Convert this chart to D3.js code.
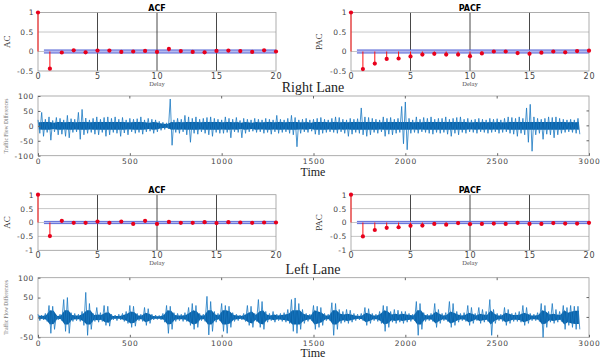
<!DOCTYPE html>
<html>
<head>
<meta charset="utf-8">
<script src="https://cdn.jsdelivr.net/npm/d3@7"></script>
<style>
  body { margin: 0; background: #fff; }
  svg { display: block; }
  .tick text { font-family: "DejaVu Sans", sans-serif; }
</style>
</head>
<body>
<div id="container"></div>
<script>
let w = 605;
let h = 361;

// correlation values per lag
let lags = d3.range(0, 21);
let rightAcf  = [1, -0.44, -0.025, 0.03, -0.02, 0.025, 0.025, -0.01, 0, 0.015, -0.01, 0.065, 0.01, -0.01, -0.02, 0.015, 0.025, 0.01, -0.01, 0.03, 0];
let rightPacf = [1, -0.45, -0.31, -0.19, -0.18, -0.125, -0.08, -0.06, -0.08, -0.08, -0.12, -0.05, 0, 0, -0.04, -0.06, -0.03, 0, -0.02, 0.01, 0.02];
let leftAcf   = [1, -0.49, 0.06, -0.01, -0.01, 0.035, -0.01, 0.035, -0.05, 0.06, -0.05, 0.02, -0.01, -0.01, 0.01, -0.02, 0.01, 0, -0.01, 0, 0];
let leftPacf  = [1, -0.5, -0.27, -0.19, -0.17, -0.12, -0.11, -0.05, -0.08, -0.02, -0.06, -0.05, -0.04, -0.05, -0.01, -0.05, -0.05, -0.02, -0.04, -0.04, -0.01];
let confBound = 0.04;

// traffic flow differences: max / min read per 20-step bin, t = 0..2940
let binStep = 20;
let rightHi = [
  20, 45, 22, 30, 18, 28, 25, 20, 35, 24,
  22, 45, 55, 26, 20, 25, 30, 22, 28, 30,
  25, 30, 22, 28, 20, 25, 22, 24, 30, 20,
  25, 22, 20, 15, 12, 10, 90, 20, 25, 22,
  35, 30, 25, 30, 22, 25, 28, 30, 25, 22,
  20, 30, 25, 22, 28, 18, 25, 22, 20, 25,
  22, 20, 25, 22, 20, 35, 22, 20, 25, 35,
  28, 20, 22, 25, 20, 22, 25, 28, 22, 20,
  25, 30, 28, 22, 20, 25, 22, 24, 60, 30,
  28, 25, 22, 20, 30, 25, 28, 22, 25, 65,
  80, 25, 20, 30, 22, 28, 25, 30, 22, 25,
  25, 30, 22, 25, 28, 30, 22, 25, 20, 22,
  25, 22, 20, 25, 22, 24, 20, 25, 30, 28,
  25, 30, 25, 60, 72, 30, 25, 22, 25, 30,
  28, 30, 25, 22, 20, 22, 20, 25
];
let rightLo = [
  -25, -35, -22, -48, -20, -30, -28, -35, -40, -22,
  -20, -45, -30, -25, -22, -28, -30, -22, -35, -30,
  -22, -25, -35, -24, -30, -20, -25, -22, -28, -20,
  -18, -25, -20, -15, -12, -10, -65, -22, -25, -20,
  -30, -55, -25, -28, -20, -25, -30, -35, -22, -25,
  -25, -22, -40, -20, -22, -40, -25, -20, -18, -22,
  -20, -25, -22, -28, -20, -25, -22, -20, -25, -30,
  -70, -25, -20, -22, -18, -28, -30, -25, -22, -20,
  -22, -25, -20, -25, -35, -28, -22, -25, -30, -35,
  -30, -22, -25, -20, -35, -28, -30, -25, -22, -60,
  -80, -25, -22, -25, -20, -22, -25, -28, -22, -25,
  -22, -28, -35, -25, -30, -22, -25, -20, -22, -25,
  -20, -22, -25, -22, -20, -25, -22, -20, -25, -28,
  -35, -25, -30, -55, -85, -30, -25, -45, -28, -30,
  -40, -30, -25, -22, -20, -22, -25, -28
];
let leftHi = [
  8, 6, 10, 30, 28, 6, 8, 45, 50, 12,
  10, 8, 15, 63, 35, 10, 25, 12, 30, 28,
  8, 6, 8, 10, 15, 30, 28, 10, 8, 25,
  22, 8, 6, 5, 10, 30, 28, 12, 10, 8,
  12, 25, 35, 30, 10, 8, 53, 40, 15, 10,
  35, 30, 28, 12, 8, 6, 10, 30, 28, 10,
  45, 40, 15, 10, 15, 8, 10, 12, 20, 45,
  49, 35, 20, 10, 8, 30, 28, 25, 10, 8,
  37, 35, 20, 15, 20, 18, 10, 8, 10, 25,
  22, 10, 8, 15, 30, 28, 15, 20, 18, 15,
  15, 10, 8, 40, 35, 12, 8, 10, 35, 20,
  10, 12, 40, 35, 15, 10, 12, 30, 25, 10,
  25, 20, 15, 45, 20, 10, 8, 25, 20, 10,
  12, 15, 30, 25, 10, 8, 12, 35, 30, 15,
  35, 20, 15, 30, 25, 30, 28, 28
];
let leftLo = [
  -8, -6, -10, -40, -30, -6, -8, -35, -40, -10,
  -8, -10, -20, -45, -30, -10, -12, -10, -20, -22,
  -6, -8, -6, -10, -15, -25, -22, -8, -10, -20,
  -15, -6, -5, -6, -12, -40, -30, -10, -8, -10,
  -10, -20, -30, -25, -8, -10, -44, -35, -12, -8,
  -35, -40, -25, -10, -8, -6, -10, -20, -25, -10,
  -25, -30, -12, -8, -12, -8, -10, -12, -15, -35,
  -40, -30, -15, -10, -8, -30, -25, -20, -8, -8,
  -45, -30, -15, -12, -15, -12, -8, -6, -8, -20,
  -15, -8, -10, -15, -35, -25, -12, -15, -12, -15,
  -12, -10, -8, -45, -30, -10, -8, -10, -25, -15,
  -8, -10, -25, -20, -12, -8, -10, -20, -15, -8,
  -15, -12, -10, -45, -15, -8, -10, -20, -15, -10,
  -10, -12, -20, -15, -8, -8, -10, -50, -25, -12,
  -15, -12, -10, -30, -20, -25, -30, -30
];
let timeTicks = [0, 500, 1000, 1500, 2000, 2500, 3000];

let viz = d3.select("#container")
  .append("svg")
    .attr("width", w)
    .attr("height", h)
;

function drawCorr(values, title, ylab, box, yDomain, yTicks){
  let g = viz.append("g");
  let xScale = d3.scaleLinear().domain([0, 20]).range([box.x0, box.x1]);
  let yScale = d3.scaleLinear().domain(yDomain).range([box.y1, box.y0]);

  // horizontal grid
  g.selectAll(".hgrid").data(yTicks.filter(d => d > yDomain[0] && d < yDomain[1])).enter()
    .append("line")
      .attr("x1", box.x0).attr("x2", box.x1)
      .attr("y1", d => yScale(d)).attr("y2", d => yScale(d))
      .attr("stroke", "#b8b8b8").attr("stroke-width", 0.8);

  // vertical grid
  g.selectAll(".vgrid").data([5, 10, 15]).enter()
    .append("line")
      .attr("x1", d => xScale(d)).attr("x2", d => xScale(d))
      .attr("y1", box.y0).attr("y2", box.y1)
      .attr("stroke", "#333").attr("stroke-width", 0.9);

  // confidence band
  g.append("rect")
    .attr("x", xScale(0.5))
    .attr("width", xScale(20) - xScale(0.5))
    .attr("y", yScale(confBound))
    .attr("height", yScale(-confBound) - yScale(confBound))
    .attr("fill", "#b4b8ee");
  g.selectAll(".bound").data([confBound, -confBound]).enter()
    .append("line")
      .attr("x1", xScale(0.5)).attr("x2", xScale(20))
      .attr("y1", d => yScale(d)).attr("y2", d => yScale(d))
      .attr("stroke", "#4050d0").attr("stroke-width", 0.8);

  // box
  g.append("rect")
    .attr("x", box.x0).attr("y", box.y0)
    .attr("width", box.x1 - box.x0).attr("height", box.y1 - box.y0)
    .attr("fill", "none").attr("stroke", "#999").attr("stroke-width", 0.8);

  // stems
  g.selectAll(".stem").data(lags).enter()
    .append("line")
      .attr("x1", d => xScale(d)).attr("x2", d => xScale(d))
      .attr("y1", yScale(0)).attr("y2", d => yScale(values[d]))
      .attr("stroke", "#ff1010").attr("stroke-width", 1);
  g.selectAll(".dot").data(lags).enter()
    .append("circle")
      .attr("cx", d => xScale(d)).attr("cy", d => yScale(values[d]))
      .attr("r", 2.1)
      .attr("fill", "#e8001c");

  let xAxis = d3.axisBottom(xScale).tickValues([0, 5, 10, 15, 20]).tickFormat(d => String(d))
    .tickSize(0).tickPadding(2);
  let xg = g.append("g").attr("transform", "translate(0," + box.y1 + ")").call(xAxis);
  xg.select(".domain").remove();
  xg.selectAll("text").attr("font-size", 8).attr("fill", "#444").attr("letter-spacing", 0.8);

  let yAxis = d3.axisLeft(yScale).tickValues(yTicks).tickFormat(d => String(d))
    .tickSize(0).tickPadding(4);
  let yg = g.append("g").attr("transform", "translate(" + box.x0 + ",0)").call(yAxis);
  yg.select(".domain").remove();
  yg.selectAll("text").attr("font-size", 7.5).attr("fill", "#444").attr("letter-spacing", 0.6);

  g.append("text")
    .attr("x", (box.x0 + box.x1) / 2).attr("y", box.y0 - 2)
    .attr("text-anchor", "middle")
    .attr("font-family", "DejaVu Sans, sans-serif")
    .attr("font-weight", "bold").attr("font-size", 8)
    .text(title);
  g.append("text")
    .attr("x", (box.x0 + box.x1) / 2).attr("y", box.y1 + 15)
    .attr("text-anchor", "middle")
    .attr("font-family", "Liberation Serif, serif")
    .attr("font-size", 6.5).attr("fill", "#555")
    .text("Delay");
  g.append("text")
    .attr("transform", "translate(" + box.labX + "," + ((box.y0 + box.y1) / 2) + ") rotate(-90)")
    .attr("text-anchor", "middle")
    .attr("font-family", "Liberation Serif, serif")
    .attr("font-size", 9).attr("fill", "#333")
    .text(ylab);
}

function drawSeries(hi, lo, box, yDomain, yTicks, laneTitle, coreCap){
  let g = viz.append("g");
  let xScale = d3.scaleLinear().domain([0, 3000]).range([box.x0, box.x1]);
  let yScale = d3.scaleLinear().domain(yDomain).range([box.y1, box.y0]);

  g.append("rect")
    .attr("x", box.x0).attr("y", box.y0)
    .attr("width", box.x1 - box.x0).attr("height", box.y1 - box.y0)
    .attr("fill", "none").attr("stroke", "#999").attr("stroke-width", 0.8);

  // dense core of each bin (where most samples sit)
  let bins = hi.map((v, i) => ({t: i * binStep, hi: v, lo: lo[i]}));
  let coreHalf = d => Math.min(d.hi, -d.lo, coreCap) * 0.6;
  let core = d3.area()
    .x(d => xScale(d.t + binStep / 4))
    .y0(d => yScale(-coreHalf(d)))
    .y1(d => yScale(coreHalf(d)));
  g.append("path")
    .attr("d", core(bins))
    .attr("fill", "#0a62a8");

  // excursions: zigzag between bin max and min
  let pts = [];
  bins.forEach(function(d){
    pts.push([d.t, d.hi]);
    pts.push([d.t + binStep / 2, d.lo]);
  });
  let line = d3.line().x(d => xScale(d[0])).y(d => yScale(d[1]));
  g.append("path")
    .attr("d", line(pts))
    .attr("fill", "none")
    .attr("stroke", "#1a78c2")
    .attr("stroke-width", 0.8);

  // inner ticks on top and right edges
  g.selectAll(".ttick").data(timeTicks.slice(1, -1)).enter()
    .append("line")
      .attr("x1", d => xScale(d)).attr("x2", d => xScale(d))
      .attr("y1", box.y0).attr("y2", box.y0 + 2.5)
      .attr("stroke", "#666");
  g.selectAll(".rtick").data(yTicks.slice(1, -1)).enter()
    .append("line")
      .attr("x1", box.x1 - 2.5).attr("x2", box.x1)
      .attr("y1", d => yScale(d)).attr("y2", d => yScale(d))
      .attr("stroke", "#666");

  let xAxis = d3.axisBottom(xScale).tickValues(timeTicks).tickFormat(d => String(d))
    .tickSizeInner(-2.5).tickSizeOuter(0).tickPadding(3);
  let xg = g.append("g").attr("transform", "translate(0," + box.y1 + ")").call(xAxis);
  xg.select(".domain").remove();
  xg.selectAll("line").attr("stroke", "#666");
  xg.selectAll("text").attr("font-size", 7.5).attr("fill", "#444").attr("letter-spacing", 0.8);

  let yAxis = d3.axisLeft(yScale).tickValues(yTicks).tickFormat(d => String(d))
    .tickSizeInner(-2.5).tickSizeOuter(0).tickPadding(4);
  let yg = g.append("g").attr("transform", "translate(" + box.x0 + ",0)").call(yAxis);
  yg.select(".domain").remove();
  yg.selectAll("line").attr("stroke", "#666");
  yg.selectAll("text").attr("font-size", 7.5).attr("fill", "#444").attr("letter-spacing", 0.6);

  g.append("text")
    .attr("transform", "translate(8," + ((box.y0 + box.y1) / 2) + ") rotate(-90)")
    .attr("text-anchor", "middle")
    .attr("font-family", "Liberation Serif, serif")
    .attr("font-size", 5.5).attr("fill", "#777")
    .text("Traffic Flow Differences");
  g.append("text")
    .attr("x", 313).attr("y", box.y1 + 20)
    .attr("text-anchor", "middle")
    .attr("font-family", "Liberation Serif, serif")
    .attr("font-size", 12).attr("fill", "#222")
    .text("Time");
  g.append("text")
    .attr("x", 313).attr("y", box.y0 - 4)
    .attr("text-anchor", "middle")
    .attr("font-family", "Liberation Serif, serif")
    .attr("font-size", 14).attr("fill", "#222")
    .text(laneTitle);
}

drawCorr(rightAcf, "ACF", "AC", {x0: 38, x1: 276, y0: 12.5, y1: 71, labX: 10}, [-0.5, 1], [-0.5, 0, 0.5, 1]);
drawCorr(rightPacf, "PACF", "PAC", {x0: 351, x1: 589, y0: 12.5, y1: 71, labX: 322}, [-0.5, 1], [-0.5, 0, 0.5, 1]);
drawSeries(rightHi, rightLo, {x0: 38, x1: 589, y0: 96, y1: 155.7}, [-100, 100], [-100, -50, 0, 50, 100], "Right Lane", 22);

drawCorr(leftAcf, "ACF", "AC", {x0: 38, x1: 276, y0: 194.7, y1: 250.3, labX: 10}, [-1, 1], [-1, -0.5, 0, 0.5, 1]);
drawCorr(leftPacf, "PACF", "PAC", {x0: 351, x1: 589, y0: 194.7, y1: 250.3, labX: 322}, [-1, 1], [-1, -0.5, 0, 0.5, 1]);
drawSeries(leftHi, leftLo, {x0: 38, x1: 589, y0: 277.7, y1: 337.3}, [-50, 100], [-50, 0, 50, 100], "Left Lane", 30);
</script>
</body>
</html>
